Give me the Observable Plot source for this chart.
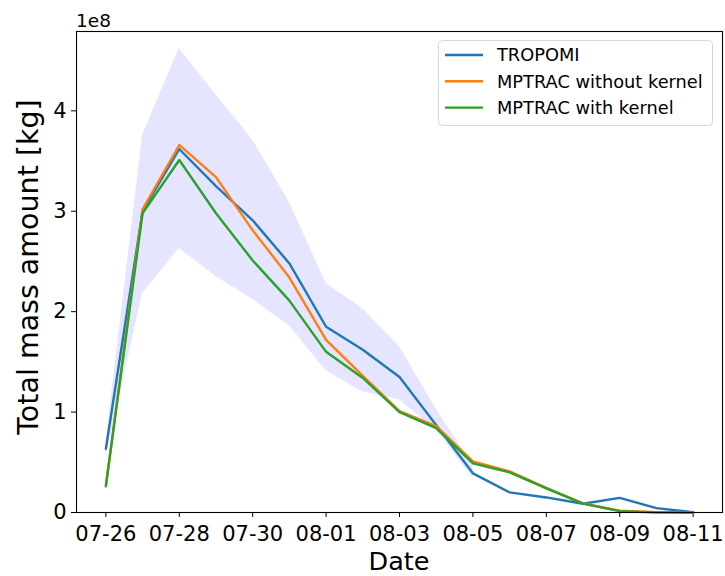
<!DOCTYPE html>
<html>
<head>
<meta charset="utf-8">
<script src="https://cdn.jsdelivr.net/npm/d3@7"></script>
<script src="https://cdn.jsdelivr.net/npm/@observablehq/plot@0.6"></script>
<style>
  html, body { margin: 0; padding: 0; background: #fff; }
  #chart svg { display: block; }
</style>
</head>
<body>
<div id="chart"></div>
<script>
// ---- data (values in units of 1e8 kg) ----
const dates = ["2019-07-26","2019-07-27","2019-07-28","2019-07-29","2019-07-30","2019-07-31",
  "2019-08-01","2019-08-02","2019-08-03","2019-08-04","2019-08-05","2019-08-06","2019-08-07",
  "2019-08-08","2019-08-09","2019-08-10","2019-08-11"];
const tropomi = [0.634, 3.00, 3.62, 3.25, 2.91, 2.48, 1.85, 1.62, 1.35, 0.87, 0.39, 0.20, 0.15, 0.087, 0.146, 0.043, 0.003];
const withoutKernel = [0.27, 3.02, 3.66, 3.34, 2.81, 2.34, 1.72, 1.36, 1.01, 0.86, 0.51, 0.41, 0.245, 0.09, 0.017, 0.002, 0.0];
const withKernel = [0.26, 2.98, 3.51, 2.98, 2.51, 2.11, 1.60, 1.34, 1.00, 0.84, 0.49, 0.40, 0.24, 0.088, 0.013, 0.001, 0.0];
const bandDates = dates.slice(0, 11);
const bandUpper = [0.70, 3.76, 4.62, 4.16, 3.71, 3.09, 2.28, 2.03, 1.65, 1.03, 0.47];
const bandLower = [0.55, 2.18, 2.63, 2.35, 2.12, 1.86, 1.41, 1.20, 1.12, 0.82, 0.34];
const tickLabels = ["07-26","07-28","07-30","08-01","08-03","08-05","08-07","08-09","08-11"];
const yTicks = [0, 1, 2, 3, 4];
const seriesNames = ["TROPOMI", "MPTRAC without kernel", "MPTRAC with kernel"];
const seriesColors = ["#1f77b4", "#ff7f0e", "#2ca02c"];
const SCALE = 1e8;

// ---- build tables ----
const parse = d3.utcParse("%Y-%m-%d");
const seriesValues = [tropomi, withoutKernel, withKernel];
const lineData = seriesNames.map((name, k) =>
  dates.map((d, i) => ({date: parse(d), value: seriesValues[k][i] * SCALE, series: name})));
const band = bandDates.map((d, i) => ({date: parse(d), lo: bandLower[i] * SCALE, hi: bandUpper[i] * SCALE}));
const tickDates = tickLabels.map(t => parse("2019-" + t));

const x0 = parse(dates[0]).getTime(), x1 = parse(dates[dates.length - 1]).getTime();
const pad = 0.05 * (x1 - x0);

const chart = Plot.plot({
  width: 725,
  height: 576,
  marginLeft: 76,
  marginRight: 3,
  marginTop: 31,
  marginBottom: 64,
  style: {fontFamily: "DejaVu Sans, sans-serif", fontSize: "21px", color: "#000", background: "#fff", overflow: "visible"},
  x: {
    type: "utc",
    domain: [new Date(x0 - pad), new Date(x1 + pad)],
    ticks: tickDates,
    tickFormat: d3.utcFormat("%m-%d"),
    tickSize: 5,
    tickPadding: 9,
    label: null
  },
  y: {
    domain: [0, 4.79 * SCALE],
    ticks: yTicks.map(v => v * SCALE),
    tickFormat: d => String(Math.round(d / SCALE)),
    tickSize: 5,
    tickPadding: 5,
    label: null
  },
  marks: [
    Plot.areaY(band, {x: "date", y1: "lo", y2: "hi", fill: "blue", fillOpacity: 0.1, curve: "linear"}),
    ...lineData.map((data, k) =>
      Plot.line(data, {x: "date", y: "value", stroke: seriesColors[k], strokeWidth: 2.4, curve: "linear"})),
    Plot.frame({stroke: "#000", strokeWidth: 1.1})
  ]
});

document.getElementById("chart").appendChild(chart);

// ---- annotations: axis labels, offset text, legend ----
const svg = d3.select(chart);
const font = "DejaVu Sans, sans-serif";

svg.append("text")
  .attr("x", 76).attr("y", 27)
  .attr("text-anchor", "start")
  .attr("font-family", font)
  .style("font-size", "18.5px")
  .attr("fill", "#000")
  .text("1e8");

svg.append("text")
  .attr("x", 399).attr("y", 570)
  .attr("text-anchor", "middle")
  .attr("font-family", font)
  .style("font-size", "25.5px")
  .attr("fill", "#000")
  .text("Date");

svg.append("text")
  .attr("transform", "translate(38,267) rotate(-90)")
  .attr("text-anchor", "middle")
  .attr("font-family", font)
  .style("font-size", "28.5px")
  .attr("fill", "#000")
  .text("Total mass amount [kg]");

const lg = svg.append("g");
lg.append("rect")
  .attr("x", 438.5).attr("y", 40.5).attr("width", 274).attr("height", 85)
  .attr("rx", 4).attr("ry", 4)
  .attr("fill", "#fff").attr("fill-opacity", 0.8)
  .attr("stroke", "#d6d6d6").attr("stroke-width", 1);
seriesNames.forEach((name, k) => {
  const y = 55 + k * 26.3;
  lg.append("line")
    .attr("x1", 445).attr("x2", 483).attr("y1", y).attr("y2", y)
    .attr("stroke", seriesColors[k]).attr("stroke-width", 2.4);
  lg.append("text")
    .attr("x", 497).attr("y", y).attr("dy", "0.36em")
    .attr("text-anchor", "start")
    .attr("font-family", font)
    .style("font-size", "17.8px")
    .attr("fill", "#000")
    .text(name);
});
</script>
</body>
</html>
